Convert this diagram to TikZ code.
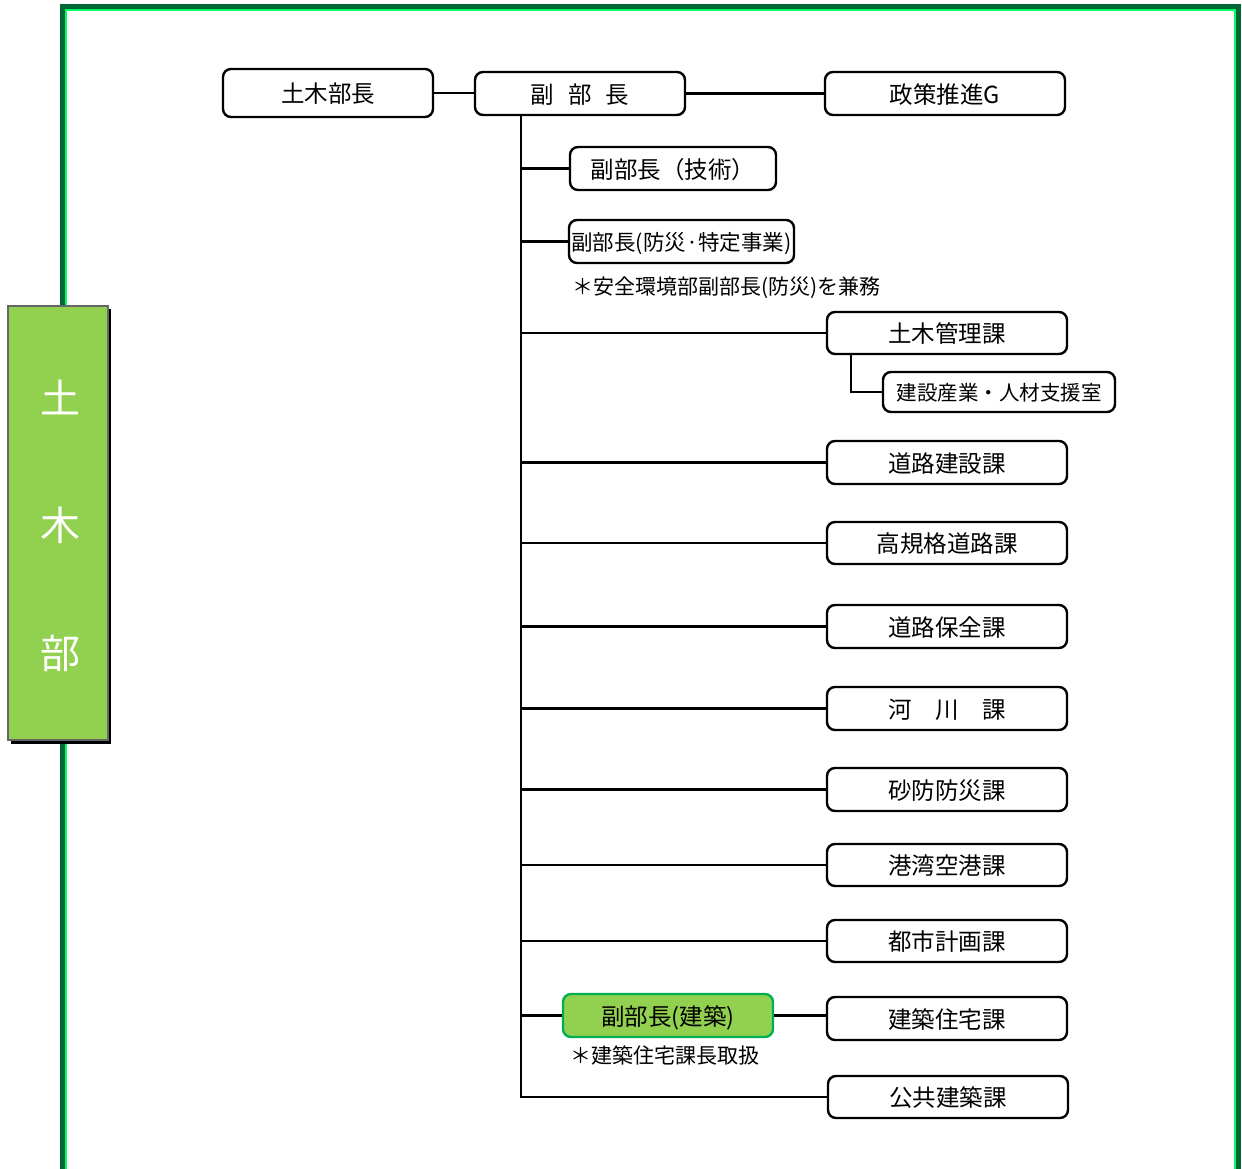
\documentclass[tikz,border=0pt]{standalone}
\usepackage{fontspec}
\setmainfont{Noto Sans CJK JP}
\definecolor{framedark}{HTML}{006633}
\definecolor{framelight}{HTML}{00FF66}
\definecolor{barfill}{HTML}{92D050}
\definecolor{bargray}{HTML}{666666}
\definecolor{boxgreen}{HTML}{00B050}
\tikzset{
  orgbox/.style={draw=black, line width=2.4pt, rounded corners=8pt, fill=white,
    inner sep=0pt, text depth=0pt, minimum height=43pt, font=\fontsize{23.5}{26}\selectfont},
  conn/.style={line width=2.4pt, draw=black},
  notetext/.style={anchor=west, inner sep=0pt, font=\fontsize{21}{24}\selectfont},
  bartext/.style={text=white, font=\fontsize{40}{44}\selectfont, inner sep=0pt}
}
\begin{document}
\begin{tikzpicture}[x=1pt,y=-1pt]
\useasboundingbox (0,0) rectangle (1242,1169);
% frame
\draw[framedark, line width=5pt] (62.5,6.5) rectangle (1238.5,1200);
\draw[framelight, line width=2.2pt] (66.2,10.2) rectangle (1234.8,1200);
% left bar
\fill[black] (11,309) rectangle (111,744);
\draw[bargray, line width=2pt, fill=barfill] (8,306) rectangle (108,740);
\node[bartext] (b1) at (60,397) {土};
\node[bartext] (b2) at (60,525) {木};
\node[bartext] (b3) at (60,653) {部};
% boxes
\node[orgbox, minimum width=210pt, minimum height=48pt] (bucho) at (328,93) {土木部長};
\node[orgbox, minimum width=210pt] (fuku) at (580,93.5) {副\hspace{0.6em}部\hspace{0.6em}長};
\node[orgbox, minimum width=240pt] (seisaku) at (945,93.5) {政策推進G};
\node[orgbox, minimum width=206pt] (gijutsu) at (673,168.5) {副部長（技術）};
\node[orgbox, minimum width=225pt, font=\fontsize{21.5}{24}\selectfont] (bousai) at (681.5,241.5) {副部長(防災·特定事業)};
\node[notetext] (note1) at (572,288) {＊安全環境部副部長(防災)を兼務};
\node[orgbox, minimum width=240pt, minimum height=42pt] (kanri) at (947,333) {土木管理課};
\node[orgbox, minimum width=232pt, minimum height=40pt, font=\fontsize{20.5}{23}\selectfont] (jinzai) at (999,392) {建設産業・人材支援室};
\node[orgbox, minimum width=240pt] (douro) at (947,462.5) {道路建設課};
\node[orgbox, minimum width=240pt, minimum height=42pt] (kouki) at (947,543) {高規格道路課};
\node[orgbox, minimum width=240pt] (hozen) at (947,626.5) {道路保全課};
\node[orgbox, minimum width=240pt] (kasen) at (947,708.5) {河\hspace{1em}川\hspace{1em}課};
\node[orgbox, minimum width=240pt] (sabou) at (947,789.5) {砂防防災課};
\node[orgbox, minimum width=240pt, minimum height=42pt] (kouwan) at (947,865) {港湾空港課};
\node[orgbox, minimum width=240pt, minimum height=42pt] (toshi) at (947,941) {都市計画課};
\node[orgbox, minimum width=210pt, draw=boxgreen, fill=barfill] (kfuku) at (668,1015.5) {副部長(建築)};
\node[notetext] (note2) at (570,1055) {＊建築住宅課長取扱};
\node[orgbox, minimum width=240pt] (jutaku) at (947,1018.5) {建築住宅課};
\node[orgbox, minimum width=240pt, minimum height=42pt] (koukyou) at (948,1097) {公共建築課};
% connectors
\coordinate (ttop) at (521,115);
\coordinate (kanriDrop) at (851,354);
\draw[conn] (bucho.east) -- (fuku.west |- bucho.east);
\draw[conn] (fuku.east) -- (seisaku.west);
\draw[conn] (ttop) -- (ttop |- koukyou.west) -- (koukyou.west);
\draw[conn] (ttop |- gijutsu.west) -- (gijutsu.west);
\draw[conn] (ttop |- bousai.west) -- (bousai.west);
\draw[conn] (ttop |- kanri.west) -- (kanri.west);
\draw[conn] (kanriDrop) |- (jinzai.west);
\draw[conn] (ttop |- douro.west) -- (douro.west);
\draw[conn] (ttop |- kouki.west) -- (kouki.west);
\draw[conn] (ttop |- hozen.west) -- (hozen.west);
\draw[conn] (ttop |- kasen.west) -- (kasen.west);
\draw[conn] (ttop |- sabou.west) -- (sabou.west);
\draw[conn] (ttop |- kouwan.west) -- (kouwan.west);
\draw[conn] (ttop |- toshi.west) -- (toshi.west);
\draw[conn] (ttop |- kfuku.west) -- (kfuku.west);
\draw[conn] (kfuku.east) -- (kfuku.east -| jutaku.west);
\end{tikzpicture}
\end{document}
